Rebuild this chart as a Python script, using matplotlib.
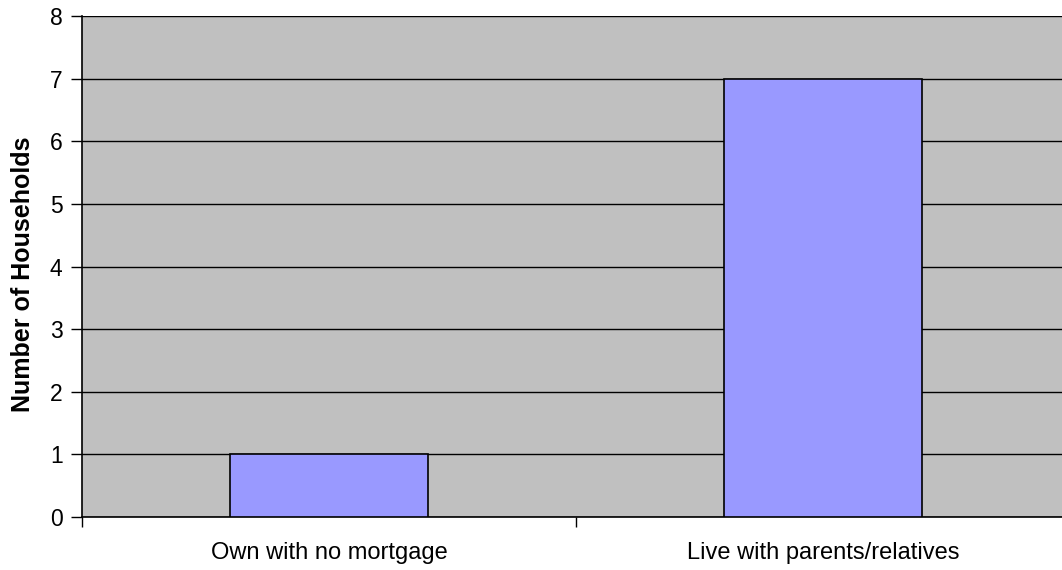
import matplotlib
matplotlib.use("Agg")
import matplotlib.pyplot as plt

categories = ["Own with no mortgage", "Live with parents/relatives"]
values = [1, 7]
yticks = [0, 1, 2, 3, 4, 5, 6, 7, 8]
ylabel = "Number of Households"

plt.rcParams['font.family'] = ['Liberation Sans', 'DejaVu Sans']

W, H = 1062, 570
fig = plt.figure(figsize=(W/100, H/100), dpi=100)
left, right, top, bottom = 82, 1070, 16, 517
ax = fig.add_axes([left/W, (H-bottom)/H, (right-left)/W, (bottom-top)/H])
ax.set_facecolor('#C0C0C0')

x = list(range(len(categories)))
ax.bar(x, values, width=0.4, color='#9999FF', edgecolor='black', linewidth=1.2, zorder=3)
ax.set_xlim(-0.5, len(categories)-0.5)
ax.set_ylim(0, 8)
ax.set_yticks(yticks)
ax.yaxis.grid(True, color='black', linewidth=1.0, zorder=1)
ax.set_axisbelow(True)

# category labels centered, ticks at boundaries
ax.set_xticks([i - 0.5 for i in range(len(categories)+1)])
ax.set_xticklabels([])
ax.set_xticks(x, minor=True)
ax.set_xticklabels(categories, minor=True, fontsize=17)
ax.tick_params(axis='x', which='minor', length=0, pad=18)
ax.tick_params(axis='x', which='major', length=7, width=1, direction='out')
ax.tick_params(axis='y', length=8, width=1, direction='out', labelsize=16.5, pad=6)

for s in ['top', 'right']:
    ax.spines[s].set_visible(False)
ax.spines['left'].set_linewidth(1.2)
ax.spines['bottom'].set_linewidth(1.2)

fig.text(23/W, 1 - 274/H, ylabel, rotation=90, ha='center', va='center',
         fontsize=18, fontweight='bold')

fig.savefig('out.png', dpi=100)
